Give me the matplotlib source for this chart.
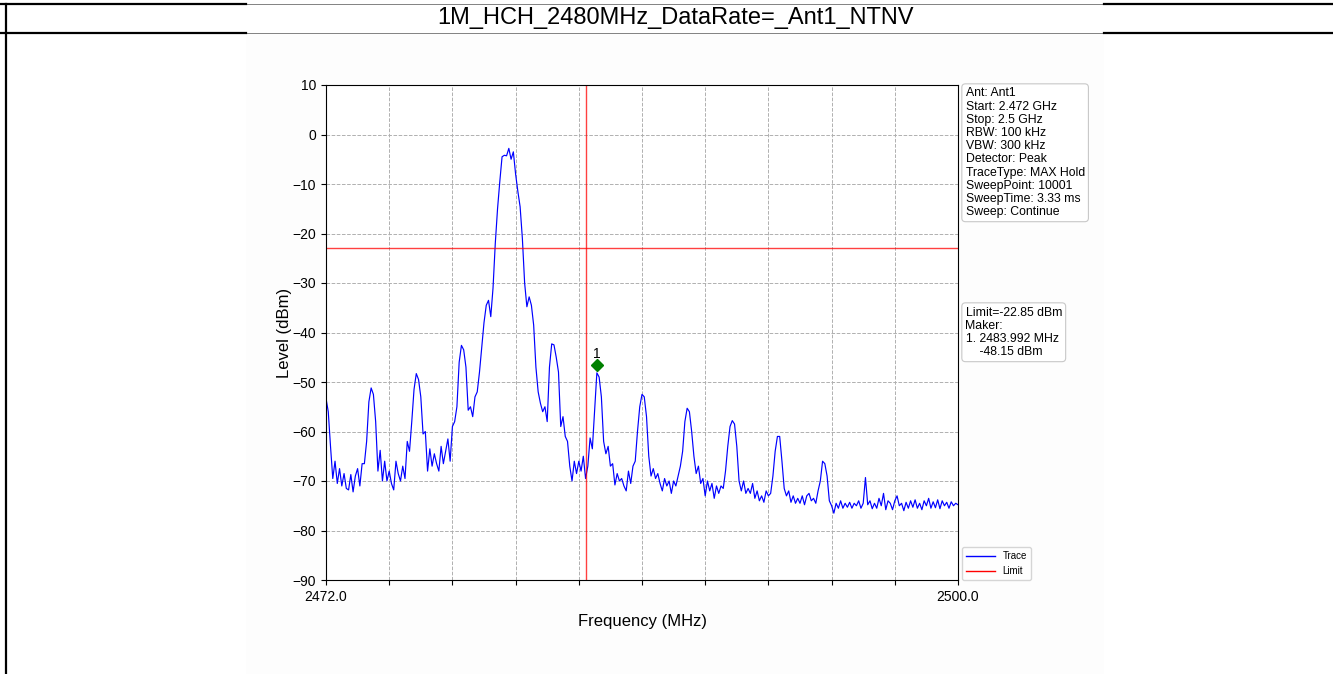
import numpy as np
import matplotlib
matplotlib.use("Agg")
import matplotlib.pyplot as plt
from matplotlib.lines import Line2D
from matplotlib.patches import Rectangle

plt.rcParams['font.family'] = ['Liberation Sans', 'DejaVu Sans']

# ---------------- data ----------------
title = "1M_HCH_2480MHz_DataRate=_Ant1_NTNV"
f_start, f_stop = 2472.0, 2500.0
# trace levels (dBm), one value every 0.1 MHz from 2472.0 to 2500.0
levels = [
    # 2472.0 - 2472.9
    -53.3, -56.0, -63.0, -69.5, -66.0, -70.5, -67.5, -71.0, -68.5, -71.5,
    # 2473.0
    -71.8, -68.7, -72.2, -69.0, -67.5, -71.0, -66.5, -66.5, -62.0, -54.0,
    # 2474.0
    -51.2, -52.5, -58.0, -68.0, -63.8, -70.0, -66.0, -70.0, -68.0, -70.5,
    # 2475.0
    -71.8, -66.0, -68.5, -70.0, -67.0, -69.5, -62.0, -64.0, -58.0, -51.5,
    # 2476.0
    -48.3, -49.5, -53.0, -60.5, -60.0, -68.0, -63.5, -67.0, -64.5, -66.5,
    # 2477.0
    -68.0, -63.0, -66.5, -64.0, -61.5, -66.0, -59.0, -58.0, -55.0, -46.0,
    # 2478.0
    -42.6, -43.5, -47.0, -55.7, -55.0, -57.0, -53.0, -52.0, -48.0, -43.0,
    # 2479.0
    -38.0, -34.5, -33.5, -36.8, -31.0, -22.0, -15.0, -9.5, -4.5, -4.2,
    # 2480.0
    -4.3, -2.8, -5.0, -3.5, -8.0, -11.5, -14.6, -21.0, -30.0, -34.8,
    # 2481.0
    -32.8, -34.5, -38.5, -47.0, -52.0, -54.3, -56.0, -55.0, -58.0, -47.0,
    # 2482.0
    -42.3, -42.5, -45.0, -48.0, -59.0, -57.0, -61.0, -62.0, -67.0, -70.0,
    # 2483.0
    -66.0, -68.5, -66.0, -68.0, -65.0, -69.5, -67.0, -61.3, -63.5, -56.0,
    # 2484.0
    -48.15, -49.0, -53.0, -62.0, -64.5, -63.0, -67.0, -66.5, -70.8, -68.5,
    # 2485.0
    -70.0, -69.5, -71.0, -72.0, -68.0, -70.5, -67.0, -66.0, -60.0, -55.0,
    # 2486.0
    -52.5, -53.0, -57.0, -65.0, -69.0, -67.5, -69.5, -68.5, -70.5, -72.0,
    # 2487.0
    -69.5, -71.0, -70.0, -72.5, -70.0, -71.0, -69.0, -67.0, -64.0, -58.0,
    # 2488.0
    -55.3, -56.0, -60.0, -65.0, -68.5, -67.0, -70.5, -69.5, -73.0, -70.0,
    # 2489.0
    -72.0, -70.5, -73.5, -71.0, -72.5, -71.0, -71.5, -68.0, -63.0, -59.0,
    # 2490.0
    -57.8, -58.5, -63.0, -70.0, -72.0, -70.0, -72.5, -71.5, -72.5, -70.5,
    # 2491.0
    -73.5, -72.0, -74.0, -73.0, -74.3, -72.0, -73.0, -72.5, -69.0, -64.0,
    # 2492.0
    -61.0, -61.0, -66.0, -71.5, -73.0, -72.0, -74.3, -73.0, -74.5, -73.5,
    # 2493.0
    -74.5, -73.0, -74.8, -73.0, -72.5, -74.0, -73.5, -74.5, -72.0, -70.0,
    # 2494.0
    -66.0, -66.5, -69.0, -74.0, -75.0, -76.5, -74.5, -75.5, -74.0, -75.5,
    # 2495.0
    -74.5, -75.3, -74.3, -75.5, -74.5, -75.0, -74.0, -75.5, -74.5, -69.3,
    # 2496.0
    -74.8, -74.0, -75.6, -74.5, -75.5, -73.5, -75.0, -72.5, -75.8, -74.0,
    # 2497.0
    -74.5, -75.8, -74.0, -73.0, -75.0, -74.5, -76.0, -74.3, -75.5, -74.0,
    # 2498.0
    -75.3, -73.8, -75.5, -74.5, -75.8, -74.0, -75.0, -73.5, -75.5, -74.2,
    # 2499.0
    -75.4, -73.8, -75.6, -74.0, -75.0, -74.3, -75.5, -74.2, -75.0, -74.5,
    # 2500.0
    -74.8,
]
freqs = np.linspace(f_start, f_stop, len(levels))

limit_dbm = -22.85
edge_freq = 2483.5
marker_freq = 2483.992
marker_level = -48.15
marker_plot_level = -46.65  # where the marker symbol sits in the picture

y_ticks = [10, 0, -10, -20, -30, -40, -50, -60, -70, -80, -90]
n_xdiv = 10

info_lines = ["Ant: Ant1", "Start: 2.472 GHz", "Stop: 2.5 GHz", "RBW: 100 kHz",
              "VBW: 300 kHz", "Detector: Peak", "TraceType: MAX Hold",
              "SweepPoint: 10001", "SweepTime: 3.33 ms", "Sweep: Continue"]
marker_lines = ["Limit=-22.85 dBm", "Maker:", "1. 2483.992 MHz", "    -48.15 dBm"]

# ---------------- figure ----------------
W, H = 1333, 674
fig = plt.figure(figsize=(W / 100, H / 100), dpi=100)

def fx(px):
    return px / W

def fy(py):
    return 1 - py / H

# page/table decoration
fig.add_artist(Rectangle((fx(246), 0), fx(1104) - fx(246), fy(34), transform=fig.transFigure,
                         facecolor='#fdfdfd', edgecolor='none', zorder=0))
for yy in (4, 33):
    fig.add_artist(Line2D([fx(246), fx(1104)], [fy(yy), fy(yy)], transform=fig.transFigure,
                          color='#505050', lw=0.5))
    fig.add_artist(Line2D([0, fx(246)], [fy(yy), fy(yy)], transform=fig.transFigure, color='black', lw=1.6))
    fig.add_artist(Line2D([fx(1104), 1], [fy(yy), fy(yy)], transform=fig.transFigure, color='black', lw=1.6))
fig.add_artist(Line2D([fx(6), fx(6)], [0, fy(4)], transform=fig.transFigure, color='black', lw=1.6))

fig.text(fx(676), fy(18), title, ha='center', va='center', fontsize=17)

# axes
ax = fig.add_axes([fx(326), fy(580), fx(958) - fx(326), (580 - 85) / H])
ax.plot(freqs, levels, color='blue', lw=0.85, label='Trace')
ax.axhline(limit_dbm, color='red', lw=1.0, alpha=0.75, label='Limit')
ax.axvline(edge_freq, color='red', lw=1.0, alpha=0.75)
ax.plot([marker_freq], [marker_plot_level], marker='D', color='green', markersize=6, ls='none')
ax.text(marker_freq, marker_plot_level + 2.4, "1", ha='center', va='center', fontsize=10)

ax.set_xlim(f_start, f_stop)
ax.set_ylim(-90, 10)
xt = np.linspace(f_start, f_stop, n_xdiv + 1)
ax.set_xticks(xt)
ax.set_xticklabels([f"{f_start:.1f}"] + [""] * (n_xdiv - 1) + [f"{f_stop:.1f}"])
ax.set_yticks(y_ticks)
ax.tick_params(labelsize=10)
ax.grid(True, ls='--', color='#b0b0b0', lw=0.7)
ax.set_xlabel("Frequency (MHz)", fontsize=12)
ax.set_ylabel("Level (dBm)", fontsize=12)
ax.xaxis.set_label_coords(0.5, (580 - 614) / 495)
ax.yaxis.set_label_coords((292 - 326) / 632, 0.5)

box = dict(boxstyle='round,pad=0.3', facecolor='white', edgecolor='#c8c8c8', lw=0.8)
ax.text((965.5 - 326) / 632, (580 - 87.5) / 495, "\n".join(info_lines), transform=ax.transAxes,
        ha='left', va='top', fontsize=8.8, bbox=box, linespacing=1.13)
ax.text((965.5 - 326) / 632, (580 - 306.5) / 495, "\n".join(marker_lines), transform=ax.transAxes,
        ha='left', va='top', fontsize=8.8, bbox=box, linespacing=1.13)

handles = [Line2D([], [], color='blue', lw=1), Line2D([], [], color='red', lw=1)]
ax.legend(handles, ['Trace', 'Limit'], loc='lower left', bbox_to_anchor=(1.006, 0.0),
          borderaxespad=0, fontsize=7, handlelength=3, frameon=True)

fig.savefig("out.png", dpi=100)
